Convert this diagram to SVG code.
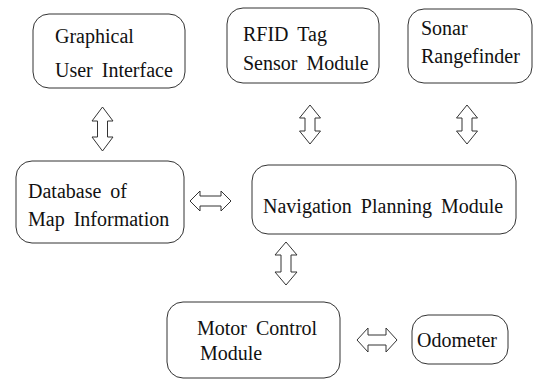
<svg xmlns="http://www.w3.org/2000/svg" width="533" height="380" viewBox="0 0 533 380">
<style>
.box{fill:#fff;stroke:#333;stroke-width:1}
.arr{fill:#fff;stroke:#333;stroke-width:1;stroke-linejoin:miter}
</style>
<rect width="533" height="380" fill="#fff"/>
<g id="gui"><rect class="box" x="33" y="14" width="152" height="74" rx="16"/><text style="font-family:'Liberation Serif';font-size:20px;word-spacing:4px" fill="#111" x="55" y="43">Graphical</text><text style="font-family:'Liberation Serif';font-size:20px;word-spacing:4px" fill="#111" x="55" y="77">User Interface</text></g>
<g id="rfid"><rect class="box" x="227" y="8" width="152" height="75" rx="16"/><text style="font-family:'Liberation Serif';font-size:20px;word-spacing:4px" fill="#111" x="243" y="41">RFID Tag</text><text style="font-family:'Liberation Serif';font-size:20px;word-spacing:4px" fill="#111" x="243" y="70">Sensor Module</text></g>
<g id="sonar"><rect class="box" x="408" y="9" width="124" height="74" rx="16"/><text style="font-family:'Liberation Serif';font-size:20px;word-spacing:4px" fill="#111" x="421" y="35">Sonar</text><text style="font-family:'Liberation Serif';font-size:20px;word-spacing:4px" fill="#111" x="421" y="63">Rangefinder</text></g>
<g id="database"><rect class="box" x="16" y="161" width="168" height="82" rx="16"/><text style="font-family:'Liberation Serif';font-size:20px;word-spacing:4px" fill="#111" x="28" y="198">Database of</text><text style="font-family:'Liberation Serif';font-size:20px;word-spacing:4px" fill="#111" x="28" y="226">Map Information</text></g>
<g id="navigation"><rect class="box" x="252" y="165" width="264" height="69" rx="16"/><text style="font-family:'Liberation Serif';font-size:20px;word-spacing:4px" fill="#111" x="263" y="213">Navigation Planning Module</text></g>
<g id="motor"><rect class="box" x="167" y="302" width="173" height="76" rx="16"/><text style="font-family:'Liberation Serif';font-size:20px;word-spacing:4px" fill="#111" x="197" y="335">Motor Control</text><text style="font-family:'Liberation Serif';font-size:20px;word-spacing:4px" fill="#111" x="200" y="360">Module</text></g>
<g id="odometer"><rect class="box" x="412" y="315" width="96" height="49" rx="16"/><text style="font-family:'Liberation Serif';font-size:20px;word-spacing:4px" fill="#111" x="417" y="347">Odometer</text></g>
<g id="connectors">
<path class="arr" d="M102.5,107 L113,121 L107.5,121 L107.5,137 L113,137 L102.5,151 L92,137 L97.5,137 L97.5,121 L92,121 Z"/>
<path class="arr" d="M310,105 L320.5,118 L315,118 L315,131 L320.5,131 L310,144 L299.5,131 L305,131 L305,118 L299.5,118 Z"/>
<path class="arr" d="M467,105 L477.5,118 L472,118 L472,131 L477.5,131 L467,144 L456.5,131 L462,131 L462,118 L456.5,118 Z"/>
<path class="arr" d="M286,242 L297,255 L291,255 L291,272 L297,272 L286,285 L275,272 L281,272 L281,255 L275,255 Z"/>
<path class="arr" d="M190,201 L200,191 L200,196 L221,196 L221,191 L231,201 L221,211 L221,206 L200,206 L200,211 Z"/>
<path class="arr" d="M357,340 L368,328 L368,335 L386,335 L386,328 L397,340 L386,352 L386,345 L368,345 L368,352 Z"/>
</g>
</svg>
